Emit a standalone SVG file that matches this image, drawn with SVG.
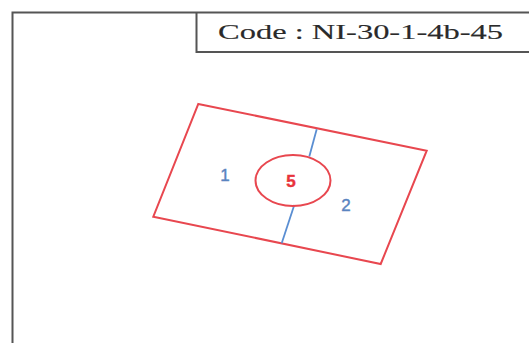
<svg xmlns="http://www.w3.org/2000/svg" width="529" height="343" viewBox="0 0 529 343">
<style>
.frame{fill:none;stroke:#555;stroke-width:2}
.red{fill:none;stroke:#e8474f;stroke-width:2}
.blue{stroke:#5a8ed2;stroke-width:1.8;fill:none}
.lbl{font-family:"Liberation Sans",Arial,sans-serif;font-size:17px;fill:#5a84c0;text-anchor:middle;stroke:#5a84c0;stroke-width:0.4}
.code{font-family:"Liberation Serif","Times New Roman",serif;font-size:21px;fill:#2a2a2a;stroke:#2a2a2a;stroke-width:0.15}
</style>
<rect width="529" height="343" fill="#fff"/>
<g id="frame">
<path class="frame" d="M12.5 345 V12.5 H531"/>
<path class="frame" d="M196.5 12.5 V52 H531"/>
<text class="code" x="218" y="39" textLength="285" lengthAdjust="spacingAndGlyphs">Code : NI-30-1-4b-45</text>
</g>
<g id="plot">
<polygon class="red" points="198.3,104 426.7,150.7 380.7,264 153.3,216.7"/>
</g>
<g id="connectors">
<line class="blue" x1="316.7" y1="129.3" x2="309.3" y2="156.5"/>
<line class="blue" x1="294.3" y1="205" x2="281.7" y2="243.3"/>
</g>
<g id="node5">
<ellipse class="red" cx="293" cy="180.5" rx="37.5" ry="25.5"/>
<text class="lbl" x="291" y="187" style="fill:#e8333b;stroke:#e8333b;font-weight:bold">5</text>
</g>
<g id="label1"><text class="lbl" x="225" y="181">1</text></g>
<g id="label2"><text class="lbl" x="346" y="211">2</text></g>
</svg>
